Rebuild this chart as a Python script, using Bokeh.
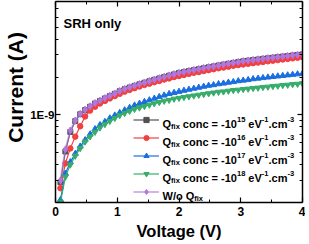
from bokeh.plotting import figure
from bokeh.models import (Range1d, FixedTicker, LinearAxis, LogAxis, Legend,
                          LegendItem, Label, CustomJSTickFormatter)
from bokeh.embed import file_html
from bokeh.resources import INLINE

# ---------------- data ----------------
voltage = [0.08, 0.16, 0.24, 0.32, 0.40, 0.48, 0.56, 0.64, 0.72, 0.80,
           0.88, 0.96, 1.04, 1.12, 1.20, 1.28, 1.36, 1.44, 1.52, 1.60,
           1.68, 1.76, 1.84, 1.92, 2.00, 2.08, 2.16, 2.24, 2.32, 2.40,
           2.48, 2.56, 2.64, 2.72, 2.80, 2.88, 2.96, 3.04, 3.12, 3.20,
           3.28, 3.36, 3.44, 3.52, 3.60, 3.68, 3.76, 3.84, 3.92, 4.00]

# currents in units of 1E-9 A
q15 = [0.29, 0.51, 0.73, 0.89, 1.01, 1.09, 1.16, 1.23, 1.29, 1.35,
       1.41, 1.47, 1.54, 1.60, 1.65, 1.70, 1.75, 1.80, 1.85, 1.90,
       1.95, 2.00, 2.05, 2.10, 2.15, 2.19, 2.23, 2.27, 2.31, 2.35,
       2.39, 2.43, 2.47, 2.51, 2.55, 2.59, 2.63, 2.67, 2.70, 2.73,
       2.76, 2.79, 2.82, 2.85, 2.88, 2.91, 2.94, 2.97, 3.00, 3.03]
q16 = [0.26, 0.41, 0.54, 0.67, 0.81, 0.97, 1.08, 1.16, 1.23, 1.29,
       1.35, 1.41, 1.47, 1.53, 1.58, 1.63, 1.68, 1.73, 1.77, 1.82,
       1.86, 1.91, 1.95, 2.00, 2.04, 2.08, 2.12, 2.16, 2.19, 2.23,
       2.27, 2.31, 2.35, 2.38, 2.42, 2.46, 2.49, 2.52, 2.55, 2.58,
       2.61, 2.64, 2.67, 2.70, 2.73, 2.76, 2.79, 2.82, 2.85, 2.88]
q17 = [0.21, 0.34, 0.42, 0.49, 0.56, 0.63, 0.70, 0.77, 0.83, 0.88,
       0.94, 0.99, 1.04, 1.09, 1.14, 1.19, 1.23, 1.27, 1.31, 1.35,
       1.39, 1.43, 1.47, 1.50, 1.53, 1.56, 1.59, 1.62, 1.65, 1.68,
       1.71, 1.73, 1.76, 1.78, 1.81, 1.83, 1.86, 1.88, 1.90, 1.93,
       1.95, 1.97, 1.99, 2.01, 2.03, 2.05, 2.07, 2.09, 2.11, 2.13]
q18 = [0.20, 0.32, 0.40, 0.47, 0.54, 0.61, 0.67, 0.73, 0.79, 0.84,
       0.89, 0.94, 0.99, 1.03, 1.07, 1.11, 1.14, 1.17, 1.20, 1.23,
       1.26, 1.29, 1.31, 1.34, 1.36, 1.38, 1.40, 1.42, 1.44, 1.46,
       1.48, 1.50, 1.52, 1.53, 1.55, 1.57, 1.58, 1.60, 1.61, 1.63,
       1.64, 1.66, 1.67, 1.69, 1.70, 1.72, 1.73, 1.75, 1.76, 1.78]
wo_q = [0.30, 0.53, 0.75, 0.90, 1.02, 1.10, 1.17, 1.24, 1.30, 1.36,
        1.42, 1.48, 1.55, 1.61, 1.66, 1.71, 1.76, 1.81, 1.86, 1.91,
        1.96, 2.01, 2.06, 2.11, 2.16, 2.20, 2.24, 2.28, 2.32, 2.36,
        2.40, 2.44, 2.48, 2.52, 2.56, 2.60, 2.64, 2.68, 2.71, 2.74,
        2.77, 2.80, 2.83, 2.86, 2.89, 2.92, 2.95, 2.98, 3.01, 3.04]

exponents = ["15", "16", "17", "18"]
x_ticks = [0, 1, 2, 3, 4]
x_minor = [0.5, 1.5, 2.5, 3.5]
y_ticks = [1e-9]
y_minor = [2e-10, 3e-10, 4e-10, 5e-10, 6e-10, 7e-10, 8e-10, 9e-10,
           2e-9, 3e-9, 4e-9, 5e-9, 6e-9, 7e-9, 8e-9]

# ---------------- figure ----------------
FONT = "Liberation Sans"
NB = "\u00a0"
p = figure(width=305, height=242, output_backend="svg", toolbar_location=None,
           y_axis_type="log", x_range=Range1d(0, 4), y_range=Range1d(2e-10, 8e-9),
           min_border_left=55, min_border_right=3, min_border_top=1,
           min_border_bottom=40)
p.outline_line_color = None
p.grid.visible = False
p.background_fill_color = "white"

fmt = CustomJSTickFormatter(code="return tick.toExponential(0).toUpperCase().replace('+','');")
blank = CustomJSTickFormatter(code="return '';")

def style_axis(ax, show_labels=True):
    ax.axis_line_width = 1.5
    ax.axis_line_color = "black"
    ax.major_tick_in = 5
    ax.major_tick_out = 0
    ax.minor_tick_in = 3
    ax.minor_tick_out = 0
    ax.major_tick_line_width = 1.2
    ax.minor_tick_line_width = 1
    ax.major_label_text_font = FONT
    ax.major_label_text_font_style = "bold"
    ax.major_label_text_font_size = "12px"
    ax.major_label_text_color = "black"
    ax.major_label_standoff = 4 if show_labels else 0
    ax.axis_label_text_font = FONT
    ax.axis_label_text_font_style = "bold"
    ax.axis_label_text_font_size = "16.5px"
    ax.axis_label_text_color = "black"
    ax.axis_label_standoff = 3 if show_labels else 0

xt = FixedTicker(ticks=x_ticks, minor_ticks=x_minor)
yt = FixedTicker(ticks=y_ticks, minor_ticks=y_minor)

p.xaxis.ticker = xt
p.yaxis.ticker = yt
p.yaxis.formatter = fmt
p.xaxis.axis_label = "Voltage (V)"
# leading no-break spaces lift the centred title a little, as in the reference
p.yaxis.axis_label = NB * 5 + "Current (A)"
for ax in p.xaxis + p.yaxis:
    style_axis(ax)
p.yaxis.axis_label_text_font_size = "21px"
p.yaxis.axis_label_standoff = 0
p.yaxis.major_label_standoff = 1
p.yaxis.major_label_text_font_size = "11.5px"

top = LinearAxis(ticker=xt, formatter=blank)
style_axis(top, False)
p.add_layout(top, "above")
right = LogAxis(ticker=yt, formatter=blank)
style_axis(right, False)
p.add_layout(right, "right")

series = [
    (q15, "#515151", "square", 5, 1.2, 1.0),
    (q16, "#F14040", "circle", 5.5, 1.2, 1.0),
    (q17, "#1A6FDF", "triangle", 6, 1.2, 1.0),
    (q18, "#37AD6B", "inverted_triangle", 6, 1.2, 1.0),
    (wo_q, "#B177DE", "diamond", 7, 2.0, 0.55),
]
items = []
for vals, col, mk, sz, lw, la in series:
    cur = [v * 1e-9 for v in vals]
    lr = p.line(voltage, cur, line_color=col, line_width=lw, line_alpha=la)
    sr = p.scatter(voltage, cur, marker=mk, size=sz, fill_color=col, line_color=col)
    items.append(LegendItem(label="", renderers=[lr, sr]))

ROW = 18
LEG_X, LEG_Y = 78, 2
legend = Legend(items=items, location=(LEG_X, LEG_Y), glyph_width=26,
                glyph_height=13, label_height=ROW, spacing=0, padding=0,
                margin=0, border_line_color=None, background_fill_alpha=0,
                label_text_font_size="11px", label_width=1, label_standoff=0)
p.add_layout(legend, "center")

# legend texts with sub/superscripts
CW = {"Q": 778, "f": 333, "i": 278, "x": 556, " ": 278, NB: 278, "c": 556,
      "o": 611, "n": 611, "=": 584, "-": 333, "e": 556, "V": 667, ".": 278,
      "m": 889, "W": 944, "/": 278}
def tw(s, size):
    return sum(CW.get(ch, 556) for ch in s) * size / 1000.0

MAIN, SMALL = 11, 7.5
def add_text(x, y, txt, size):
    p.add_layout(Label(x=x, y=y, x_units="screen", y_units="screen",
                       text=txt.replace(" ", NB),
                       text_font=FONT, text_font_style="bold",
                       text_font_size=f"{size}px", text_color="black",
                       text_baseline="alphabetic", text_align="left"))

TX = 107
for i in range(5):
    cy = LEG_Y + (4 - i) * ROW + ROW / 2
    base = cy - 4
    if i < 4:
        segs = [("Q", 0, MAIN), ("fix", -3, SMALL), (" conc = -10", 0, MAIN),
                (exponents[i], 4, SMALL), (" eV", 0, MAIN), ("-1", 4, SMALL),
                (".cm", 0, MAIN), ("-3", 4, SMALL)]
    else:
        segs = [("W/o Q", 0, MAIN), ("fix", -3, SMALL)]
    x = TX
    for s, dy, size in segs:
        add_text(x, base + dy, s, size)
        x += tw(s, size)

p.add_layout(Label(x=8, y=179, x_units="screen", y_units="screen",
                   text="SRH only", text_font=FONT, text_font_style="bold",
                   text_font_size="13px", text_color="black",
                   text_baseline="alphabetic"))

open("out.html", "w").write(file_html(p, INLINE))
